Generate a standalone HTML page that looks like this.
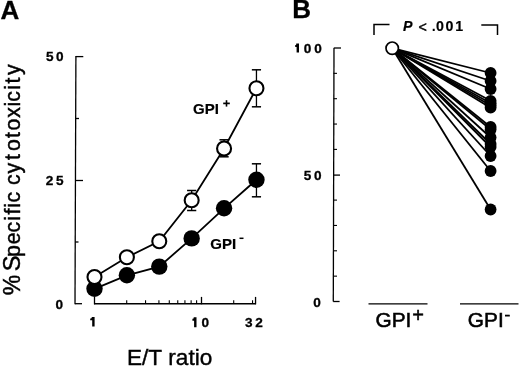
<!DOCTYPE html>
<html><head><meta charset="utf-8"><style>
html,body{margin:0;padding:0;background:#fff;width:520px;height:367px;overflow:hidden}
svg{display:block;filter:grayscale(1)}
text{font-kerning:none}
text{fill:#000}
</style></head><body>
<svg width="520" height="367" viewBox="0 0 520 367" font-family='"Liberation Sans", sans-serif'><text x="0.6" y="19" font-size="26" font-weight="bold" text-anchor="start" stroke="#000" stroke-width="0.3">A</text>
<text x="292.3" y="18.2" font-size="26" font-weight="bold" text-anchor="start" stroke="#000" stroke-width="0.3">B</text>
<line x1="75.9" y1="55.9" x2="75" y2="304.3" stroke="#000" stroke-width="1.3"/>
<line x1="75.8" y1="56.6" x2="83.3" y2="56.6" stroke="#000" stroke-width="1.3"/>
<line x1="75.4" y1="180.5" x2="83" y2="180.5" stroke="#000" stroke-width="1.3"/>
<line x1="75.6" y1="118.5" x2="79" y2="118.5" stroke="#000" stroke-width="1.3"/>
<line x1="75.2" y1="242" x2="78.5" y2="242" stroke="#000" stroke-width="1.3"/>
<line x1="75" y1="303.7" x2="82" y2="303.7" stroke="#000" stroke-width="1.3"/>
<line x1="94" y1="303.7" x2="255.9" y2="303.7" stroke="#000" stroke-width="1.5"/>
<line x1="126.710209536046" y1="303.7" x2="126.710209536046" y2="300.2" stroke="#000" stroke-width="1.1"/>
<line x1="145.55197425500387" y1="303.7" x2="145.55197425500387" y2="300.2" stroke="#000" stroke-width="1.1"/>
<line x1="158.920419072092" y1="303.7" x2="158.920419072092" y2="300.2" stroke="#000" stroke-width="1.1"/>
<line x1="169.28979046395403" y1="303.7" x2="169.28979046395403" y2="300.2" stroke="#000" stroke-width="1.1"/>
<line x1="177.76218379104986" y1="303.7" x2="177.76218379104986" y2="300.2" stroke="#000" stroke-width="1.1"/>
<line x1="184.92549028152547" y1="303.7" x2="184.92549028152547" y2="300.2" stroke="#000" stroke-width="1.1"/>
<line x1="191.13062860813795" y1="303.7" x2="191.13062860813795" y2="300.2" stroke="#000" stroke-width="1.1"/>
<line x1="196.60394851000774" y1="303.7" x2="196.60394851000774" y2="300.2" stroke="#000" stroke-width="1.1"/>
<line x1="233.710209536046" y1="303.7" x2="233.710209536046" y2="300.2" stroke="#000" stroke-width="1.1"/>
<line x1="252.55197425500387" y1="303.7" x2="252.55197425500387" y2="300.2" stroke="#000" stroke-width="1.1"/>
<line x1="94.5" y1="304.3" x2="94.5" y2="296.9" stroke="#000" stroke-width="1.3"/>
<line x1="201.5" y1="304.3" x2="201.5" y2="296.9" stroke="#000" stroke-width="1.3"/>
<line x1="255.55104768022994" y1="304.3" x2="255.55104768022994" y2="296.9" stroke="#000" stroke-width="1.3"/>
<text x="46.08" y="61.3" font-size="13.6" font-weight="bold" stroke="#000" stroke-width="0.3">5</text>
<text x="55.96" y="61.3" font-size="13.6" font-weight="bold" stroke="#000" stroke-width="0.3">0</text>
<text x="45.73" y="185.3" font-size="13.6" font-weight="bold" stroke="#000" stroke-width="0.3">2</text>
<text x="56.08" y="185.3" font-size="13.6" font-weight="bold" stroke="#000" stroke-width="0.3">5</text>
<text x="55.46" y="308.6" font-size="13.6" font-weight="bold" stroke="#000" stroke-width="0.3">0</text>
<path d="M91.90,316.9 L94.60,316.9 L94.60,326.6 L92.20,326.6 L92.20,320.30 L90.20,320.30 L90.20,318.40 C91.80,318.40 91.60,317.80 91.90,316.9 Z" fill="#000"/>
<path d="M193.80,317.3 L196.50,317.3 L196.50,327.2 L194.10,327.2 L194.10,320.70 L192.40,320.70 L192.40,318.80 C194.00,318.80 193.50,318.20 193.80,317.3 Z" fill="#000"/>
<text x="201.56" y="327.2" font-size="13.6" font-weight="bold" stroke="#000" stroke-width="0.3">0</text>
<text x="244.99" y="327.3" font-size="13.6" font-weight="bold" stroke="#000" stroke-width="0.3">3</text>
<text x="255.33" y="327.3" font-size="13.6" font-weight="bold" stroke="#000" stroke-width="0.3">2</text>
<path d="M296.30,43.5 L299.00,43.5 L299.00,52.6 L296.60,52.6 L296.60,46.90 L295.20,46.90 L295.20,45.00 C296.80,45.00 296.00,44.40 296.30,43.5 Z" fill="#000"/>
<text x="303.76" y="52.6" font-size="13.6" font-weight="bold" stroke="#000" stroke-width="0.3">0</text>
<text x="314.26" y="52.6" font-size="13.6" font-weight="bold" stroke="#000" stroke-width="0.3">0</text>
<text x="303.78" y="180.1" font-size="13.6" font-weight="bold" stroke="#000" stroke-width="0.3">5</text>
<text x="313.96" y="180.1" font-size="13.6" font-weight="bold" stroke="#000" stroke-width="0.3">0</text>
<text x="313.16" y="306.5" font-size="13.6" font-weight="bold" stroke="#000" stroke-width="0.3">0</text>
<text x="0.87" y="0" font-size="23.0" stroke="#000" stroke-width="0.45" transform="translate(19.6,296.0) rotate(-90)">%</text>
<text x="24.79" y="0" font-size="23.6" stroke="#000" stroke-width="0.45" transform="translate(19.6,296.0) rotate(-90)">S</text>
<text x="39.14" y="0" font-size="21.3" stroke="#000" stroke-width="0.45" transform="translate(19.6,296.0) rotate(-90)">p</text>
<text x="51.70" y="0" font-size="21.3" stroke="#000" stroke-width="0.45" transform="translate(19.6,296.0) rotate(-90)">e</text>
<text x="63.60" y="0" font-size="21.3" stroke="#000" stroke-width="0.45" transform="translate(19.6,296.0) rotate(-90)">c</text>
<text x="75.34" y="0" font-size="21.3" stroke="#000" stroke-width="0.45" transform="translate(19.6,296.0) rotate(-90)">i</text>
<text x="81.47" y="0" font-size="21.3" stroke="#000" stroke-width="0.45" transform="translate(19.6,296.0) rotate(-90)">f</text>
<text x="88.39" y="0" font-size="21.3" stroke="#000" stroke-width="0.45" transform="translate(19.6,296.0) rotate(-90)">i</text>
<text x="93.60" y="0" font-size="21.3" stroke="#000" stroke-width="0.45" transform="translate(19.6,296.0) rotate(-90)">c</text>
<text x="111.10" y="0" font-size="21.3" stroke="#000" stroke-width="0.45" transform="translate(19.6,296.0) rotate(-90)">c</text>
<text x="122.57" y="0" font-size="21.3" stroke="#000" stroke-width="0.45" transform="translate(19.6,296.0) rotate(-90)">y</text>
<text x="136.06" y="0" font-size="21.3" stroke="#000" stroke-width="0.45" transform="translate(19.6,296.0) rotate(-90)">t</text>
<text x="144.93" y="0" font-size="21.3" stroke="#000" stroke-width="0.45" transform="translate(19.6,296.0) rotate(-90)">o</text>
<text x="157.91" y="0" font-size="21.3" stroke="#000" stroke-width="0.45" transform="translate(19.6,296.0) rotate(-90)">t</text>
<text x="165.53" y="0" font-size="21.3" stroke="#000" stroke-width="0.45" transform="translate(19.6,296.0) rotate(-90)">o</text>
<text x="178.22" y="0" font-size="21.3" stroke="#000" stroke-width="0.45" transform="translate(19.6,296.0) rotate(-90)">x</text>
<text x="189.44" y="0" font-size="21.3" stroke="#000" stroke-width="0.45" transform="translate(19.6,296.0) rotate(-90)">i</text>
<text x="194.25" y="0" font-size="21.3" stroke="#000" stroke-width="0.45" transform="translate(19.6,296.0) rotate(-90)">c</text>
<text x="206.24" y="0" font-size="21.3" stroke="#000" stroke-width="0.45" transform="translate(19.6,296.0) rotate(-90)">i</text>
<text x="212.51" y="0" font-size="21.3" stroke="#000" stroke-width="0.45" transform="translate(19.6,296.0) rotate(-90)">t</text>
<text x="221.07" y="0" font-size="21.3" stroke="#000" stroke-width="0.45" transform="translate(19.6,296.0) rotate(-90)">y</text>
<text x="126.9" y="365.4" font-size="22.6" font-weight="normal" text-anchor="start" stroke="#000" stroke-width="0.4">E/T ratio</text>
<line x1="191.67248260033313" y1="190.5" x2="191.67248260033313" y2="210.5" stroke="#000" stroke-width="1.3"/>
<line x1="187.07248260033313" y1="190.5" x2="196.27248260033312" y2="190.5" stroke="#000" stroke-width="1.5"/>
<line x1="187.07248260033313" y1="210.5" x2="196.27248260033312" y2="210.5" stroke="#000" stroke-width="1.5"/>
<line x1="224.0633101337775" y1="139.8" x2="224.0633101337775" y2="156.8" stroke="#000" stroke-width="1.3"/>
<line x1="219.4633101337775" y1="139.8" x2="228.6633101337775" y2="139.8" stroke="#000" stroke-width="1.5"/>
<line x1="219.4633101337775" y1="156.8" x2="228.6633101337775" y2="156.8" stroke="#000" stroke-width="1.5"/>
<line x1="256.45413766722186" y1="69.8" x2="256.45413766722186" y2="106.8" stroke="#000" stroke-width="1.3"/>
<line x1="251.85413766722186" y1="69.8" x2="261.0541376672219" y2="69.8" stroke="#000" stroke-width="1.5"/>
<line x1="251.85413766722186" y1="106.8" x2="261.0541376672219" y2="106.8" stroke="#000" stroke-width="1.5"/>
<line x1="256.45413766722186" y1="163.8" x2="256.45413766722186" y2="196.8" stroke="#000" stroke-width="1.3"/>
<line x1="251.85413766722186" y1="163.8" x2="261.0541376672219" y2="163.8" stroke="#000" stroke-width="1.5"/>
<line x1="251.85413766722186" y1="196.8" x2="261.0541376672219" y2="196.8" stroke="#000" stroke-width="1.5"/>
<polyline fill="none" stroke="#000" stroke-width="1.8" points="94.50,288.8 126.89,275.3 159.28,266.6 191.67,238.4 224.06,208.3 256.45,179.8"/>
<polyline fill="none" stroke="#000" stroke-width="1.8" points="94.50,277 126.89,257.3 159.28,241.3 191.67,200.3 224.06,148.5 256.45,88.3"/>
<circle cx="94.5" cy="288.8" r="8.2" fill="#000"/>
<circle cx="126.89082753344437" cy="275.3" r="8.2" fill="#000"/>
<circle cx="159.28165506688873" cy="266.6" r="8.2" fill="#000"/>
<circle cx="191.67248260033313" cy="238.4" r="8.2" fill="#000"/>
<circle cx="224.0633101337775" cy="208.3" r="8.2" fill="#000"/>
<circle cx="256.45413766722186" cy="179.8" r="8.2" fill="#000"/>
<circle cx="94.5" cy="277" r="7.0" fill="#fff" stroke="#000" stroke-width="2.1"/>
<circle cx="126.89082753344437" cy="257.3" r="7.0" fill="#fff" stroke="#000" stroke-width="2.1"/>
<circle cx="159.28165506688873" cy="241.3" r="7.0" fill="#fff" stroke="#000" stroke-width="2.1"/>
<circle cx="191.67248260033313" cy="200.3" r="7.0" fill="#fff" stroke="#000" stroke-width="2.1"/>
<circle cx="224.0633101337775" cy="148.5" r="7.0" fill="#fff" stroke="#000" stroke-width="2.1"/>
<circle cx="256.45413766722186" cy="88.3" r="7.0" fill="#fff" stroke="#000" stroke-width="2.1"/>
<text x="193" y="114" font-size="15" font-weight="bold" text-anchor="start" stroke="#000" stroke-width="0.2">GPI</text>
<line x1="223.2" y1="103.4" x2="229.8" y2="103.4" stroke="#000" stroke-width="1.7"/>
<line x1="226.5" y1="100.2" x2="226.5" y2="106.6" stroke="#000" stroke-width="1.6"/>
<text x="210.3" y="248.9" font-size="15" font-weight="bold" text-anchor="start" stroke="#000" stroke-width="0.2">GPI</text>
<line x1="239.5" y1="238.3" x2="243.5" y2="238.3" stroke="#000" stroke-width="1.5"/>
<line x1="334" y1="48" x2="333.3" y2="301.5" stroke="#000" stroke-width="1.3"/>
<line x1="333.8" y1="48" x2="341" y2="48" stroke="#000" stroke-width="1.3"/>
<line x1="333.6" y1="175.1" x2="340" y2="175.1" stroke="#000" stroke-width="1.3"/>
<line x1="333.2" y1="301.5" x2="339.6" y2="301.5" stroke="#000" stroke-width="1.3"/>
<line x1="333.5" y1="73.35" x2="337" y2="73.35" stroke="#000" stroke-width="1.1"/>
<line x1="333.5" y1="98.69999999999999" x2="337" y2="98.69999999999999" stroke="#000" stroke-width="1.1"/>
<line x1="333.5" y1="124.05000000000001" x2="337" y2="124.05000000000001" stroke="#000" stroke-width="1.1"/>
<line x1="333.5" y1="149.4" x2="337" y2="149.4" stroke="#000" stroke-width="1.1"/>
<line x1="333.5" y1="200.1" x2="337" y2="200.1" stroke="#000" stroke-width="1.1"/>
<line x1="333.5" y1="225.45" x2="337" y2="225.45" stroke="#000" stroke-width="1.1"/>
<line x1="333.5" y1="250.8" x2="337" y2="250.8" stroke="#000" stroke-width="1.1"/>
<line x1="333.5" y1="276.15" x2="337" y2="276.15" stroke="#000" stroke-width="1.1"/>
<polyline fill="none" stroke="#000" stroke-width="1.5" points="374,35 374,24.5 389.5,24.5"/>
<polyline fill="none" stroke="#000" stroke-width="1.5" points="481.3,25 497.5,25 497.5,35"/>
<text x="403.0" y="30.5" font-size="14.2" font-weight="bold" text-anchor="start" font-style="italic" stroke="#000" stroke-width="0.2">P</text>
<text x="418.6" y="31.6" font-size="14.2" font-weight="normal" text-anchor="start" stroke="#000" stroke-width="0.5">&lt;</text>
<text x="431.8" y="30.5" font-size="14.2" font-weight="bold" text-anchor="start" >.</text>
<text x="436.1" y="30.5" font-size="14.2" font-weight="bold" text-anchor="start" stroke="#000" stroke-width="0.2">0</text>
<text x="445.6" y="30.5" font-size="14.2" font-weight="bold" text-anchor="start" stroke="#000" stroke-width="0.2">0</text>
<text x="455.2" y="30.5" font-size="14.2" font-weight="bold" text-anchor="start" stroke="#000" stroke-width="0.2">1</text>
<line x1="392.2" y1="48.2" x2="490.6" y2="73" stroke="#000" stroke-width="1.8"/>
<line x1="392.2" y1="48.2" x2="490.6" y2="81" stroke="#000" stroke-width="1.8"/>
<line x1="392.2" y1="48.2" x2="490.6" y2="89" stroke="#000" stroke-width="1.8"/>
<line x1="392.2" y1="48.2" x2="490.6" y2="100.8" stroke="#000" stroke-width="1.8"/>
<line x1="392.2" y1="48.2" x2="490.6" y2="103.3" stroke="#000" stroke-width="1.8"/>
<line x1="392.2" y1="48.2" x2="490.6" y2="105.5" stroke="#000" stroke-width="1.8"/>
<line x1="392.2" y1="48.2" x2="490.6" y2="107.7" stroke="#000" stroke-width="1.8"/>
<line x1="392.2" y1="48.2" x2="490.6" y2="127" stroke="#000" stroke-width="1.8"/>
<line x1="392.2" y1="48.2" x2="490.6" y2="129.5" stroke="#000" stroke-width="1.8"/>
<line x1="392.2" y1="48.2" x2="490.6" y2="137.5" stroke="#000" stroke-width="1.8"/>
<line x1="392.2" y1="48.2" x2="490.6" y2="144" stroke="#000" stroke-width="1.8"/>
<line x1="392.2" y1="48.2" x2="490.6" y2="147" stroke="#000" stroke-width="1.8"/>
<line x1="392.2" y1="48.2" x2="490.6" y2="156" stroke="#000" stroke-width="1.8"/>
<line x1="392.2" y1="48.2" x2="490.6" y2="171" stroke="#000" stroke-width="1.8"/>
<line x1="392.2" y1="48.2" x2="490.6" y2="209.5" stroke="#000" stroke-width="1.8"/>
<circle cx="490.6" cy="73" r="5.9" fill="#000"/>
<circle cx="490.6" cy="81" r="5.9" fill="#000"/>
<circle cx="490.6" cy="89" r="5.9" fill="#000"/>
<circle cx="490.6" cy="100.8" r="5.9" fill="#000"/>
<circle cx="490.6" cy="103.3" r="5.9" fill="#000"/>
<circle cx="490.6" cy="105.5" r="5.9" fill="#000"/>
<circle cx="490.6" cy="107.7" r="5.9" fill="#000"/>
<circle cx="490.6" cy="127" r="5.9" fill="#000"/>
<circle cx="490.6" cy="129.5" r="5.9" fill="#000"/>
<circle cx="490.6" cy="137.5" r="5.9" fill="#000"/>
<circle cx="490.6" cy="144" r="5.9" fill="#000"/>
<circle cx="490.6" cy="147" r="5.9" fill="#000"/>
<circle cx="490.6" cy="156" r="5.9" fill="#000"/>
<circle cx="490.6" cy="171" r="5.9" fill="#000"/>
<circle cx="490.6" cy="209.5" r="5.9" fill="#000"/>
<circle cx="392.2" cy="48.2" r="6.2" fill="#fff" stroke="#000" stroke-width="1.7"/>
<line x1="368.5" y1="303.8" x2="427.5" y2="303.8" stroke="#000" stroke-width="1.3"/>
<line x1="460" y1="303.8" x2="518.5" y2="303.8" stroke="#000" stroke-width="1.3"/>
<text x="375.55" y="326.6" font-size="20.8" font-weight="normal" text-anchor="start" stroke="#000" stroke-width="0.55">GPI</text>
<text x="467.85" y="326.9" font-size="20.8" font-weight="normal" text-anchor="start" stroke="#000" stroke-width="0.55">GPI</text>
<text x="412.22" y="321.7" font-size="20" font-weight="normal" text-anchor="start" stroke="#000" stroke-width="0.5">+</text>
<line x1="505" y1="315.6" x2="509.8" y2="315.6" stroke="#000" stroke-width="1.8"/></svg>
</body></html>
